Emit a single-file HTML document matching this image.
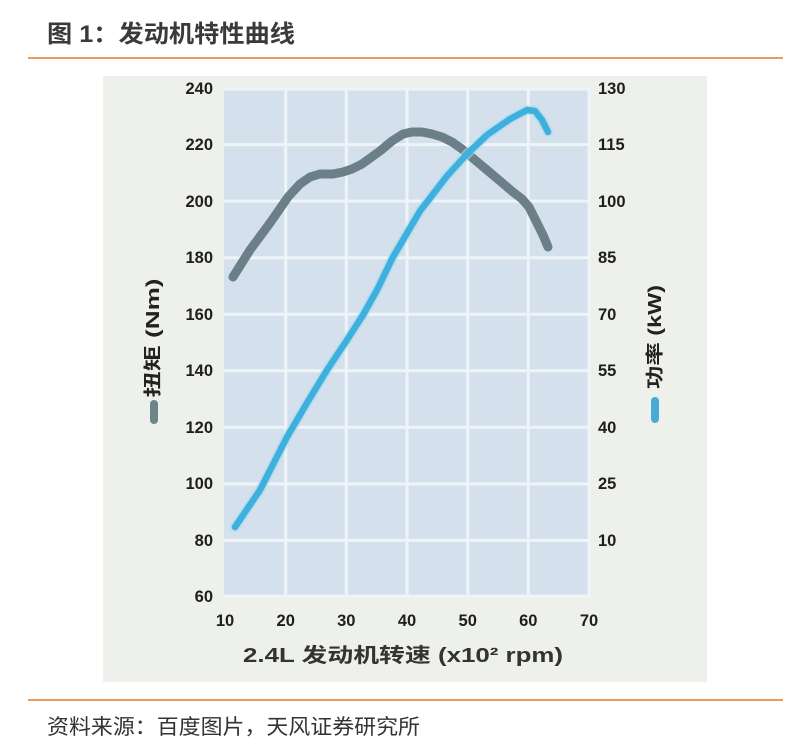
<!DOCTYPE html>
<html>
<head>
<meta charset="utf-8">
<style>
  html,body{margin:0;padding:0;background:#ffffff;}
  body{width:810px;height:754px;overflow:hidden;}
  svg{display:block;}
</style>
</head>
<body>
<svg width="810" height="754" viewBox="0 0 810 754" xmlns="http://www.w3.org/2000/svg">
  <!-- Title -->
  <text x="47" y="42" textLength="248" lengthAdjust="spacingAndGlyphs" font-family="'Liberation Sans','Noto Sans CJK SC',sans-serif" font-size="24" font-weight="bold" fill="#3a3a3a">图 1：发动机特性曲线</text>
  <rect x="28" y="57" width="755" height="2" fill="#e99a5c"/>

  <!-- Panel -->
  <rect x="103" y="76" width="604" height="606" fill="#eef1eb"/>

  <!-- Plot area -->
  <rect x="224" y="88" width="366" height="509" fill="#d4e0eb"/>
  <g stroke="#eef4f8" stroke-width="3">
    <line x1="224" y1="89" x2="590" y2="89"/>
    <line x1="224" y1="144.6" x2="590" y2="144.6"/>
    <line x1="224" y1="201.1" x2="590" y2="201.1"/>
    <line x1="224" y1="257.7" x2="590" y2="257.7"/>
    <line x1="224" y1="314.2" x2="590" y2="314.2"/>
    <line x1="224" y1="370.8" x2="590" y2="370.8"/>
    <line x1="224" y1="427.3" x2="590" y2="427.3"/>
    <line x1="224" y1="483.9" x2="590" y2="483.9"/>
    <line x1="224" y1="540.4" x2="590" y2="540.4"/>
    <line x1="224" y1="596" x2="590" y2="596"/>
    <line x1="285.7" y1="88" x2="285.7" y2="597"/>
    <line x1="346.3" y1="88" x2="346.3" y2="597"/>
    <line x1="407" y1="88" x2="407" y2="597"/>
    <line x1="467.7" y1="88" x2="467.7" y2="597"/>
    <line x1="528.3" y1="88" x2="528.3" y2="597"/>
    <line x1="589" y1="88" x2="589" y2="597"/>
  </g>

  <!-- Torque curve -->
  <polyline fill="none" stroke="#6b7f88" stroke-width="9" stroke-linecap="round" stroke-linejoin="round"
    points="233,277 250,250 270,223 288,197 300,184 310,177 320,174 333,174 343,172 352,169 362,164 380,151 392,141 403,134 412,132 422,132 432,134 442,137 452,142 462,149 475,160 487,170 500,181 513,192 522,199 529,207 537,223 543,235 548,247"/>

  <!-- Power curve -->
  <polyline fill="none" stroke="#a8dcf0" stroke-width="10" stroke-opacity="0.6" stroke-linecap="round" stroke-linejoin="round"
    points="235,527 260,490 287,437 307,403 327,370 347,340 363,315 377,290 393,257 420,211 447,176 467,154 487,135 510,119 527,110 535,111 542,120 548,132"/>
  <polyline fill="none" stroke="#3fb0dd" stroke-width="6.5" stroke-linecap="round" stroke-linejoin="round"
    points="235,527 260,490 287,437 307,403 327,370 347,340 363,315 377,290 393,257 420,211 447,176 467,154 487,135 510,119 527,110 535,111 542,120 548,132"/>

  <!-- Left tick labels -->
  <g font-family="'Liberation Sans',sans-serif" font-size="16.5" font-weight="bold" fill="#1e1e1e" text-anchor="end">
    <text x="213" y="94">240</text>
    <text x="213" y="150">220</text>
    <text x="213" y="207">200</text>
    <text x="213" y="263">180</text>
    <text x="213" y="320">160</text>
    <text x="213" y="376">140</text>
    <text x="213" y="433">120</text>
    <text x="213" y="489">100</text>
    <text x="213" y="546">80</text>
    <text x="213" y="602">60</text>
  </g>
  <!-- Right tick labels -->
  <g font-family="'Liberation Sans',sans-serif" font-size="16.5" font-weight="bold" fill="#1e1e1e" text-anchor="start">
    <text x="598" y="94">130</text>
    <text x="598" y="150">115</text>
    <text x="598" y="207">100</text>
    <text x="598" y="263">85</text>
    <text x="598" y="320">70</text>
    <text x="598" y="376">55</text>
    <text x="598" y="433">40</text>
    <text x="598" y="489">25</text>
    <text x="598" y="546">10</text>
  </g>
  <!-- X tick labels -->
  <g font-family="'Liberation Sans',sans-serif" font-size="16.5" font-weight="bold" fill="#1e1e1e" text-anchor="middle">
    <text x="225" y="626">10</text>
    <text x="285.7" y="626">20</text>
    <text x="346.3" y="626">30</text>
    <text x="407" y="626">40</text>
    <text x="467.7" y="626">50</text>
    <text x="528.3" y="626">60</text>
    <text x="589" y="626">70</text>
  </g>

  <!-- X axis title -->
  <text x="403" y="662" text-anchor="middle" textLength="320" lengthAdjust="spacingAndGlyphs" font-family="'Liberation Sans','Noto Sans CJK SC',sans-serif" font-size="20" font-weight="bold" fill="#333">2.4L 发动机转速 (x10² rpm)</text>

  <!-- Left axis title -->
  <text transform="translate(159,338) rotate(-90)" text-anchor="middle" textLength="119" lengthAdjust="spacingAndGlyphs" font-family="'Liberation Sans','Noto Sans CJK SC',sans-serif" font-size="18" font-weight="bold" fill="#222">扭矩 (Nm)</text>
  <rect x="150" y="400" width="8" height="24" rx="4" fill="#6d8589"/>

  <!-- Right axis title -->
  <text transform="translate(661,337) rotate(-90)" text-anchor="middle" textLength="104" lengthAdjust="spacingAndGlyphs" font-family="'Liberation Sans','Noto Sans CJK SC',sans-serif" font-size="18" font-weight="bold" fill="#222">功率 (kW)</text>
  <rect x="651" y="397" width="8" height="26" rx="4" fill="#4ba9d9"/>

  <!-- Footer -->
  <rect x="28" y="699" width="755" height="2" fill="#e99a5c"/>
  <text x="47" y="734" textLength="373" lengthAdjust="spacingAndGlyphs" font-family="'Liberation Sans','Noto Sans CJK SC',sans-serif" font-size="21" fill="#333">资料来源：百度图片，天风证券研究所</text>
</svg>
</body>
</html>
